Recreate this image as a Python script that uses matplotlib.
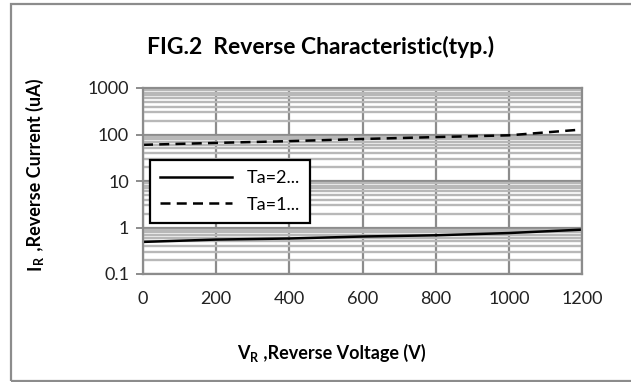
import matplotlib.pyplot as plt
from matplotlib.patches import Rectangle
from matplotlib.ticker import LogLocator

plt.rcParams['font.family'] = ['Lato', 'DejaVu Sans']

voltage = [0, 200, 400, 600, 800, 1000, 1200]
ir_25 = [0.49, 0.55, 0.58, 0.64, 0.68, 0.76, 0.9]
ir_125 = [60, 66, 72, 80, 88, 96, 128]
labels = ['Ta=2...', 'Ta=1...']
x_ticks = [0, 200, 400, 600, 800, 1000, 1200]
y_ticks = [0.1, 1, 10, 100, 1000]
y_ticklabels = ['0.1', '1', '10', '100', '1000']

fig = plt.figure(figsize=(6.31, 3.82), dpi=100)
fig.patches.append(Rectangle((11 / 631, 1 / 382), 1.0, 377 / 382, transform=fig.transFigure,
                             fill=False, edgecolor='#8c8c8c', linewidth=1.6))

ax = fig.add_axes([143 / 631, 108 / 382, 439 / 631, 186 / 382])
ax.set_yscale('log')
ax.set_xlim(0, 1200)
ax.set_ylim(0.1, 1000)

ax.yaxis.set_minor_locator(LogLocator(base=10, subs=range(2, 10)))
ax.grid(which='minor', axis='y', color='#b8b8b8', linewidth=1.7)
ax.grid(which='major', axis='both', color='#8c8c8c', linewidth=1.6)
ax.set_axisbelow(True)

ax.plot(voltage, ir_25, color='black', linewidth=1.8, label=labels[0])
ax.plot(voltage, ir_125, color='black', linewidth=1.8, linestyle=(0, (4, 2.5)), label=labels[1])

ax.set_xticks(x_ticks)
ax.set_xticklabels([str(v) for v in x_ticks])
ax.set_yticks(y_ticks)
ax.set_yticklabels(y_ticklabels)
ax.tick_params(axis='y', which='major', length=5, color='#8c8c8c', width=1.4, labelsize=13, pad=5)
ax.tick_params(axis='y', which='minor', length=0)
ax.tick_params(axis='x', length=0, labelsize=13, pad=12)
ax.tick_params(labelcolor='#222222')

for s in ax.spines.values():
    s.set_color('#8c8c8c')
    s.set_linewidth(1.6)

# axis titles with subscript R, built from bold pieces
lab = dict(fontsize=13, fontweight='bold')
sub = dict(fontsize=9, fontweight='bold')
xv = fig.text(237 / 631, 1 - 362 / 382, 'V', ha='left', va='bottom', **lab)
xr = ax.annotate('R', xy=(1, 0), xycoords=xv, xytext=(0.5, -1.5), textcoords='offset points',
                 ha='left', va='bottom', annotation_clip=False, **sub)
ax.annotate(' ,Reverse Voltage (V)', xy=(1, 0), xycoords=(xr, xv), xytext=(0.5, 0),
            textcoords='offset points', ha='left', va='bottom', annotation_clip=False, **lab)

yi = fig.text(26 / 631, 1 - 270 / 382, 'I', ha='left', va='bottom', rotation=90, **lab)
yr = ax.annotate('R', xy=(1, 1), xycoords=yi, xytext=(1.5, 0.5), textcoords='offset points',
                 ha='right', va='bottom', rotation=90, annotation_clip=False, **sub)
ax.annotate(' ,Reverse Current (uA)', xy=(0, 1), xycoords=(yi, yr), xytext=(0, 0.5),
            textcoords='offset points', ha='left', va='bottom', rotation=90,
            annotation_clip=False, **lab)

fig.text(321 / 631, 1 - 47 / 382, 'FIG.2  Reverse Characteristic(typ.)', ha='center', va='center',
         fontsize=16.5, fontweight='bold')

leg = ax.legend(loc='upper left', bbox_to_anchor=(0.016, 0.613), fontsize=13, handlelength=4.0,
                frameon=True, fancybox=False, framealpha=1, edgecolor='black',
                borderaxespad=0, labelspacing=0.6, borderpad=0.55)
leg.get_frame().set_linewidth(1.6)

fig.savefig('out.png', dpi=100)
